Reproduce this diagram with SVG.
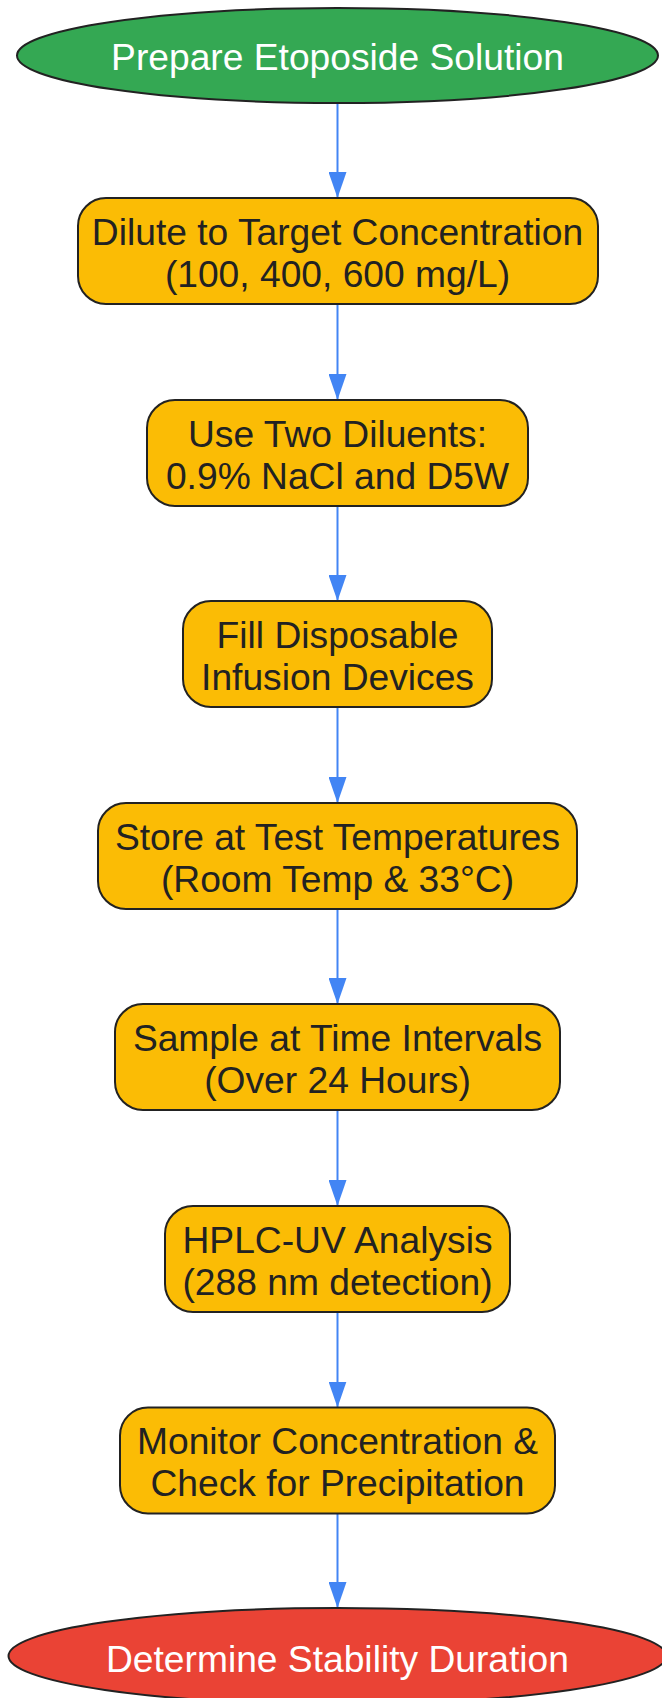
<svg xmlns="http://www.w3.org/2000/svg" width="662" height="1698" viewBox="0 0 662 1698">
<style>
.box{fill:#FBBC05;stroke:#222;stroke-width:2}
.t{font-family:"Liberation Sans",Arial,sans-serif;font-size:37.2px;fill:#222;text-anchor:middle}
.w{fill:#fff}
.e{stroke:#4285F4;stroke-width:2;fill:none;marker-end:url(#ah)}
</style>
<defs>
<marker id="ah" markerUnits="userSpaceOnUse" markerWidth="26" markerHeight="18" refX="26" refY="9" orient="auto">
<path d="M0,0 L26,9 L0,18 Z" fill="#4285F4"/>
</marker>
</defs>
<rect width="662" height="1698" fill="#fff"/>
<g id="connectors">
<line class="e" x1="337.5" y1="103" x2="337.5" y2="198"/>
<line class="e" x1="337.5" y1="304" x2="337.5" y2="400"/>
<line class="e" x1="337.5" y1="506" x2="337.5" y2="601"/>
<line class="e" x1="337.5" y1="707" x2="337.5" y2="803"/>
<line class="e" x1="337.5" y1="909" x2="337.5" y2="1004"/>
<line class="e" x1="337.5" y1="1110" x2="337.5" y2="1206"/>
<line class="e" x1="337.5" y1="1312" x2="337.5" y2="1407.5"/>
<line class="e" x1="337.5" y1="1513.5" x2="337.5" y2="1608"/>
</g>
<g id="start">
<ellipse cx="337.5" cy="55.5" rx="320.5" ry="47.5" fill="#34A853" stroke="#222" stroke-width="2"/>
<text class="t w" x="337.5" y="69.5">Prepare Etoposide Solution</text>
</g>
<g id="n1">
<rect class="box" x="78" y="198" width="520" height="106" rx="28"/>
<text class="t" x="337.5" y="244.5">Dilute to Target Concentration</text>
<text class="t" x="337.5" y="286.5">(100, 400, 600 mg/L)</text>
</g>
<g id="n2">
<rect class="box" x="147" y="400" width="381" height="106" rx="28"/>
<text class="t" x="337.5" y="446.5">Use Two Diluents:</text>
<text class="t" x="337.5" y="488.5">0.9% NaCl and D5W</text>
</g>
<g id="n3">
<rect class="box" x="183" y="601" width="309" height="106" rx="28"/>
<text class="t" x="337.5" y="647.5">Fill Disposable</text>
<text class="t" x="337.5" y="689.5">Infusion Devices</text>
</g>
<g id="n4">
<rect class="box" x="98" y="803" width="479" height="106" rx="28"/>
<text class="t" x="337.5" y="849.5">Store at Test Temperatures</text>
<text class="t" x="337.5" y="891.5">(Room Temp &amp; 33°C)</text>
</g>
<g id="n5">
<rect class="box" x="115" y="1004" width="445" height="106" rx="28"/>
<text class="t" x="337.5" y="1050.5">Sample at Time Intervals</text>
<text class="t" x="337.5" y="1092.5">(Over 24 Hours)</text>
</g>
<g id="n6">
<rect class="box" x="165" y="1206" width="345" height="106" rx="28"/>
<text class="t" x="337.5" y="1252.5">HPLC-UV Analysis</text>
<text class="t" x="337.5" y="1294.5">(288 nm detection)</text>
</g>
<g id="n7">
<rect class="box" x="120" y="1407.5" width="435" height="106" rx="28"/>
<text class="t" x="337.5" y="1454">Monitor Concentration &amp;</text>
<text class="t" x="337.5" y="1496">Check for Precipitation</text>
</g>
<g id="end">
<ellipse cx="337.5" cy="1656" rx="329" ry="48" fill="#EA4335" stroke="#222" stroke-width="2"/>
<text class="t w" x="337.5" y="1671.5">Determine Stability Duration</text>
</g>
</svg>
